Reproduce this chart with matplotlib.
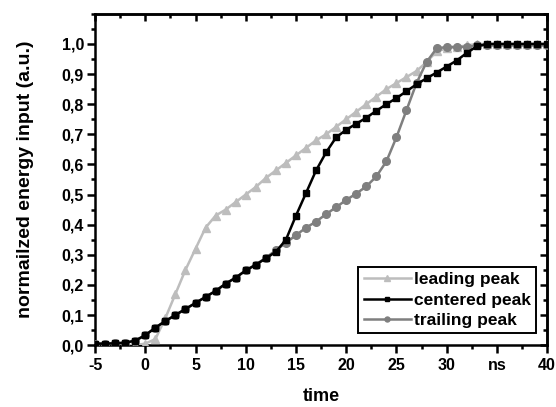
import matplotlib
matplotlib.use("Agg")
import matplotlib.pyplot as plt
from matplotlib.ticker import MultipleLocator, FixedLocator, FixedFormatter

# time axis, 1 ns steps
time = list(range(-5, 41))

leading = [0.0, 0.0, 0.0, 0.0, 0.0, 0.005, 0.02, 0.09, 0.17, 0.25, 0.32, 0.39,
           0.43, 0.45, 0.475, 0.50, 0.525, 0.555, 0.58, 0.605, 0.63, 0.655,
           0.68, 0.70, 0.725, 0.75, 0.775, 0.80, 0.825, 0.85, 0.87, 0.89,
           0.91, 0.94, 0.975, 0.985, 0.99, 0.995, 1.0, 1.0, 1.0, 1.0, 1.0,
           1.0, 1.0, 1.0]

centered = [0.005, 0.005, 0.006, 0.008, 0.015, 0.033, 0.058, 0.08, 0.10, 0.12,
            0.14, 0.16, 0.18, 0.204, 0.224, 0.248, 0.267, 0.288, 0.31, 0.35,
            0.43, 0.505, 0.58, 0.64, 0.69, 0.715, 0.735, 0.755, 0.778, 0.80,
            0.82, 0.843, 0.866, 0.886, 0.905, 0.925, 0.945, 0.97, 0.992, 1.0,
            1.0, 1.0, 1.0, 1.0, 1.0, 1.0]

trailing = [0.005, 0.005, 0.006, 0.008, 0.015, 0.033, 0.058, 0.08, 0.10, 0.12,
            0.14, 0.16, 0.18, 0.204, 0.224, 0.248, 0.267, 0.29, 0.315, 0.34,
            0.365, 0.39, 0.41, 0.435, 0.458, 0.482, 0.503, 0.527, 0.56, 0.61,
            0.69, 0.78, 0.87, 0.94, 0.985, 0.99, 0.99, 0.99, 0.995, 0.995,
            0.995, 0.995, 0.995, 0.995, 0.995, 0.995]

xtick_vals = [-5, 0, 5, 10, 15, 20, 25, 30, 35, 40]
xtick_labels = ["-5", "0", "5", "10", "15", "20", "25", "30", "ns", "40"]
ytick_vals = [0.0, 0.1, 0.2, 0.3, 0.4, 0.5, 0.6, 0.7, 0.8, 0.9, 1.0]

plt.rcParams["font.family"] = ["Liberation Sans", "DejaVu Sans"]
plt.rcParams["font.weight"] = "bold"

fig = plt.figure(figsize=(5.56, 4.07), dpi=100)
ax = fig.add_axes([0.171, 0.152, 0.813, 0.814])

ax.plot(time, leading, color="#bdbdbd", lw=1.8, marker="^", ms=6,
        label="leading peak", zorder=3)
ax.plot(time, centered, color="black", lw=1.8, marker="s", ms=5,
        label="centered peak", zorder=4)
ax.plot(time, trailing, color="#7f7f7f", lw=1.8, marker="o", ms=5.5,
        label="trailing peak", zorder=3)

ax.set_xlim(-5, 40)
ax.set_ylim(0, 1.1)

ax.xaxis.set_major_locator(FixedLocator(xtick_vals))
ax.xaxis.set_major_formatter(FixedFormatter(xtick_labels))
ax.xaxis.set_minor_locator(MultipleLocator(2.5))
ax.yaxis.set_major_locator(FixedLocator(ytick_vals))
ax.yaxis.set_major_formatter(FixedFormatter([f"{v:.1f}".replace(".", ",") for v in ytick_vals]))
ax.yaxis.set_minor_locator(MultipleLocator(0.05))

for s in ax.spines.values():
    s.set_linewidth(1.8)

ax.tick_params(which="both", direction="out", width=1.8, labelsize=11.5)
ax.tick_params(which="major", length=6)
ax.tick_params(which="minor", length=3)
ax.tick_params(axis="x", pad=3)
ax.tick_params(axis="y", pad=2)

# top and right ticks point inward
top = ax.secondary_xaxis("top")
top.xaxis.set_major_locator(FixedLocator(xtick_vals))
top.xaxis.set_minor_locator(MultipleLocator(2.5))
top.tick_params(which="both", direction="in", width=1.8, labeltop=False)
top.tick_params(which="major", length=5)
top.tick_params(which="minor", length=3)
top.spines["top"].set_linewidth(1.8)

right = ax.secondary_yaxis("right")
right.yaxis.set_major_locator(FixedLocator(ytick_vals))
right.yaxis.set_minor_locator(MultipleLocator(0.05))
right.tick_params(which="both", direction="in", width=1.8, labelright=False)
right.tick_params(which="major", length=5)
right.tick_params(which="minor", length=3)
right.spines["right"].set_linewidth(1.8)

ax.set_xlabel("time", fontsize=13, fontweight="bold", labelpad=11)
ax.set_ylabel("normailzed energy input (a.u.)", fontsize=14, fontweight="bold", labelpad=20)

leg = ax.legend(loc="lower right", bbox_to_anchor=(0.976, 0.036), borderaxespad=0,
                fancybox=False, framealpha=1, edgecolor="black", fontsize=12.5,
                handlelength=2.7, handletextpad=0.2, borderpad=0.3,
                labelspacing=0.3, markerscale=0.65)
leg.get_frame().set_linewidth(1.4)

fig.savefig("out.png", dpi=100)
